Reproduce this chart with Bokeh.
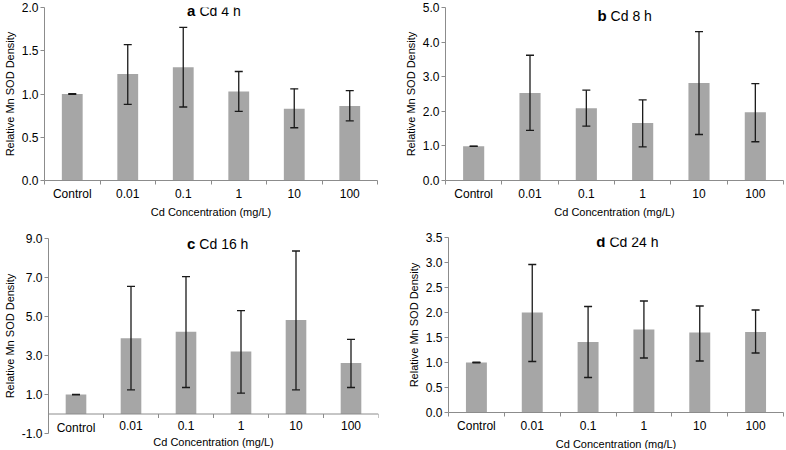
import numpy as np
from bokeh.plotting import figure
from bokeh.models import (ColumnDataSource, Range1d, FixedTicker, NumeralTickFormatter,
                          Whisker, TeeHead, Label, Span, Title)
from bokeh.core.properties import value
from bokeh.layouts import row, column
from bokeh.embed import file_html
from bokeh.resources import INLINE

# ---------------- data ----------------
categories = ["Control", "0.01", "0.1", "1", "10", "100"]
letters = ["a", "b", "c", "d"]
titles = ["Cd 4 h", "Cd 8 h", "Cd 16 h", "Cd 24 h"]
x_title = "Cd Concentration (mg/L)"
y_title = "Relative Mn SOD Density"

a_mean = [1.00, 1.23, 1.31, 1.03, 0.83, 0.86]
a_low = [0.995, 0.88, 0.85, 0.80, 0.61, 0.69]
a_high = [1.005, 1.57, 1.77, 1.26, 1.06, 1.04]

b_mean = [0.99, 2.53, 2.09, 1.66, 2.82, 1.97]
b_low = [0.985, 1.45, 1.57, 0.97, 1.33, 1.12]
b_high = [0.995, 3.62, 2.61, 2.33, 4.30, 2.80]

c_mean = [1.00, 3.88, 4.22, 3.20, 4.82, 2.61]
c_low = [0.98, 1.24, 1.36, 1.07, 1.24, 1.36]
c_high = [1.01, 6.54, 7.05, 5.30, 8.36, 3.83]

d_mean = [1.00, 2.00, 1.41, 1.66, 1.60, 1.61]
d_low = [0.995, 1.02, 0.70, 1.09, 1.03, 1.19]
d_high = [1.005, 2.96, 2.12, 2.23, 2.13, 2.05]

a_yticks = [0.0, 0.5, 1.0, 1.5, 2.0]
b_yticks = [0.0, 1.0, 2.0, 3.0, 4.0, 5.0]
c_yticks = [-1.0, 1.0, 3.0, 5.0, 7.0, 9.0]
d_yticks = [0.0, 0.5, 1.0, 1.5, 2.0, 2.5, 3.0, 3.5]

# ---------------- style ----------------
FONT = "Liberation Sans"
BAR = "#A6A6A6"
AXIS = "#8C8C8C"
ERR = "#1A1A1A"
TXT = "#000000"


def panel(i, means, lows, highs, yticks, width, height, borders, title_x, title_dy,
          axis_at_zero=False):
    n = len(categories)
    xs = np.arange(n) + 0.5
    src = ColumnDataSource(dict(x=xs, top=means, lower=lows, upper=highs,
                                name=categories))
    bl, br, bt, bb = borders
    p = figure(width=width, height=height,
               x_range=Range1d(0, n), y_range=Range1d(yticks[0], yticks[-1]),
               output_backend="svg", toolbar_location=None,
               x_axis_location=None if axis_at_zero else "below",
               min_border_left=bl, min_border_right=br,
               min_border_top=bt, min_border_bottom=bb)
    p.outline_line_color = None
    p.xgrid.visible = False
    p.ygrid.visible = False

    p.vbar(x="x", top="top", bottom=0, width=0.375, source=src,
           fill_color=BAR, line_color=None)
    w = Whisker(base="x", upper="upper", lower="lower", source=src, level="overlay",
                line_color=ERR, line_width=1.3,
                upper_head=TeeHead(size=8, line_color=ERR, line_width=1.3),
                lower_head=TeeHead(size=8, line_color=ERR, line_width=1.3))
    p.add_layout(w)

    if axis_at_zero:
        # category axis crossing at y = 0 inside the plot area
        p.add_layout(Span(location=0, dimension="width", line_color=AXIS, line_width=1))
        p.ray(x=np.arange(n + 1), y=0, length=4, length_units="screen",
              angle=-np.pi / 2, line_color=AXIS, line_width=1)
        p.text(x="x", y=0, text="name", source=src, y_offset=7,
               text_align="center", text_baseline="top",
               text_font=value(FONT), text_font_size="12px", text_color=TXT)
    else:
        xa = p.xaxis[0]
        xa.ticker = FixedTicker(ticks=list(xs), minor_ticks=list(range(n + 1)))
        xa.major_label_overrides = {float(x): c for x, c in zip(xs, categories)}
        xa.major_tick_line_color = None
        xa.major_tick_out = 0
        xa.major_tick_in = 0
        xa.minor_tick_out = 4
        xa.minor_tick_in = 0
        xa.minor_tick_line_color = AXIS
        xa.axis_line_color = AXIS
        xa.major_label_standoff = 2
        xa.major_label_text_font = FONT
        xa.major_label_text_font_size = "12px"
        xa.major_label_text_color = TXT

    # x axis title, centred under the plot area
    p.add_layout(Title(text=x_title, align="center", standoff=0,
                       text_font=FONT, text_font_size="11px",
                       text_font_style="normal", text_color=TXT), "below")

    # y axis
    ya = p.yaxis[0]
    ya.ticker = FixedTicker(ticks=yticks, minor_ticks=[])
    ya.formatter = NumeralTickFormatter(format="0.0")
    ya.major_tick_out = 4
    ya.major_tick_in = 0
    ya.minor_tick_line_color = None
    ya.major_tick_line_color = AXIS
    ya.axis_line_color = AXIS
    ya.major_label_standoff = 2
    ya.major_label_text_font = FONT
    ya.major_label_text_font_size = "12px"
    ya.major_label_text_color = TXT
    ya.axis_label = y_title
    ya.axis_label_text_font = FONT
    ya.axis_label_text_font_size = "11px"
    ya.axis_label_text_font_style = "normal"
    ya.axis_label_text_color = TXT
    ya.axis_label_standoff = 3

    # panel title inside the plot area
    p.add_layout(Label(x=title_x, y=yticks[-1], y_offset=title_dy, text=letters[i],
                       text_align="right", text_baseline="middle",
                       text_font=FONT, text_font_size="15px", text_font_style="bold",
                       text_color=TXT))
    p.add_layout(Label(x=title_x, y=yticks[-1], x_offset=4, y_offset=title_dy,
                       text=titles[i], text_align="left", text_baseline="middle",
                       text_font=FONT, text_font_size="14px", text_color=TXT))
    return p


pa = panel(0, a_mean, a_low, a_high, a_yticks, 393, 226, (40, 16, 7, 46), 2.72, -3)
pb = panel(1, b_mean, b_low, b_high, b_yticks, 392, 226, (52, 2, 7, 46), 2.86, -8)
pc = panel(2, c_mean, c_low, c_high, c_yticks, 393, 223, (45, 15, 12, 16), 2.67, -5,
           axis_at_zero=True)
pd_ = panel(3, d_mean, d_low, d_high, d_yticks, 392, 223, (55, 2, 11, 37), 2.81, -4)

layout = column(row(pa, pb, spacing=0),
                row(column(pc, spacing=0), column(pd_, spacing=0), spacing=0),
                spacing=0)

open("out.html", "w").write(file_html(layout, INLINE))
